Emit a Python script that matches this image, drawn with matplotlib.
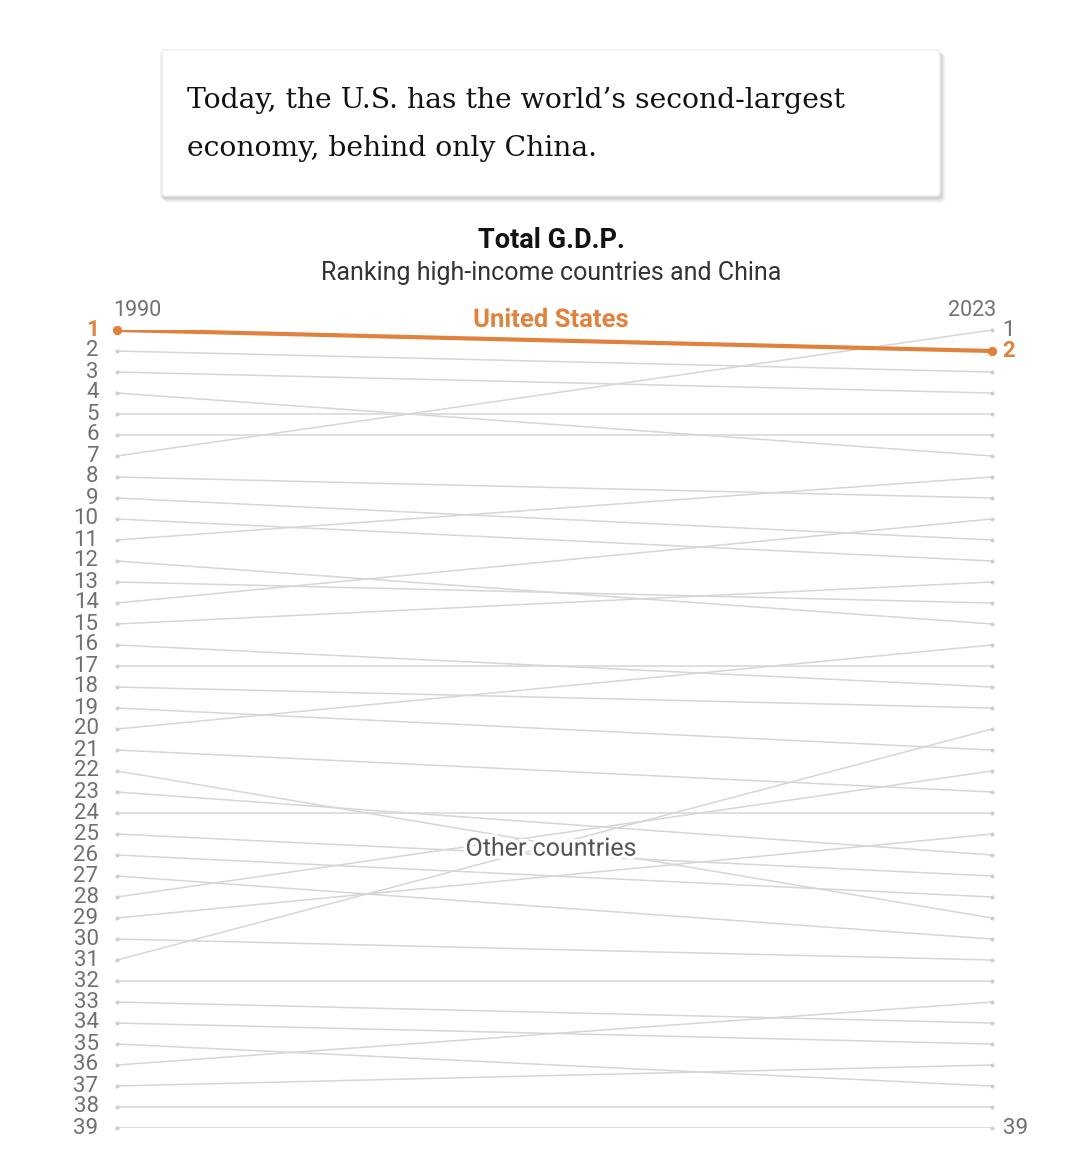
import matplotlib.pyplot as plt
import matplotlib.patheffects as pe
from matplotlib.patches import FancyBboxPatch

# rankings: position in 1990 -> position in 2023
rank_1990 = list(range(1, 40))
rank_2023 = [2, 3, 4, 7, 5, 6, 1, 9, 11, 12,
             8, 15, 14, 10, 13, 18, 17, 19, 21, 16,
             23, 29, 26, 24, 27, 28, 30, 22, 25, 31,
             20, 32, 34, 35, 37, 33, 36, 38, 39]
highlight = 1  # United States, 1990 rank
years = ['1990', '2023']

title = 'Total G.D.P.'
subtitle = 'Ranking high-income countries and China'
headline = ['Today, the U.S. has the world\u2019s second-largest',
            'economy, behind only China.']

orange = '#e0823d'
grey_line = '#d6d6d6'
grey_text = '#707070'
W, H = 1080, 1176

fig = plt.figure(figsize=(W / 100, H / 100), dpi=100)
fig.patch.set_facecolor('white')

# caption box with a soft shadow
bx, by, bw, bh = 162, 50, 778, 146
for i, a in enumerate([0.05, 0.05, 0.04, 0.03, 0.02]):
    sh = FancyBboxPatch(((bx - 2 + i) / W, (H - by - bh - 3 - i) / H), (bw + 4) / W, (bh + 2) / H,
                        boxstyle='round,pad=0,rounding_size=0.004', transform=fig.transFigure,
                        facecolor='black', edgecolor='none', alpha=a, zorder=0)
    fig.add_artist(sh)
box = FancyBboxPatch((bx / W, (H - by - bh) / H), bw / W, bh / H,
                     boxstyle='round,pad=0,rounding_size=0.003', transform=fig.transFigure,
                     facecolor='white', edgecolor='#ececec', lw=1, zorder=1)
fig.add_artist(box)
for line, yy in zip(headline, [100, 148]):
    fig.text(187 / W, 1 - yy / H, line, ha='left', va='center', fontsize=20.3,
             family='DejaVu Serif', color='#121212', zorder=2)

fig.text(551 / W, 1 - 241 / H, title, ha='center', va='center', fontsize=19.5,
         family='Roboto', weight='bold', color='#121212')
fig.text(551 / W, 1 - 273 / H, subtitle, ha='center', va='center', fontsize=18,
         family='Roboto', color='#333333')

ax = fig.add_axes([117 / W, 48 / H, 875 / W, 798 / H])
ax.set_xlim(0, 1)
ax.set_ylim(39, 1)
ax.axis('off')

for r0, r1 in zip(rank_1990, rank_2023):
    if r0 == highlight:
        continue
    ax.plot([0, 1], [r0, r1], color=grey_line, lw=1.1, zorder=1, solid_capstyle='round')
    ax.scatter([0, 1], [r0, r1], s=9, color='#cfcfcf', zorder=2, clip_on=False, lw=0)

us_end = rank_2023[rank_1990.index(highlight)]
ax.plot([0, 1], [highlight, us_end], color=orange, lw=3, zorder=4, solid_capstyle='round')
ax.scatter([0, 1], [highlight, us_end], s=45, color=orange, zorder=5, clip_on=False, lw=0)

# rank labels
for r in rank_1990:
    is_us = r == highlight
    ax.text(-0.021, r, str(r), ha='right', va='center', fontsize=16, family='Roboto',
            color=orange if is_us else grey_text, weight='bold' if is_us else 'normal')
for r in [1, us_end, 39]:
    is_us = r == us_end
    ax.text(1.012, r, str(r), ha='left', va='center', fontsize=16, family='Roboto',
            color=orange if is_us else grey_text, weight='bold' if is_us else 'normal')

ax.text(-0.004, 0.08, years[0], ha='left', va='center', fontsize=15.5, family='Roboto', color=grey_text)
ax.text(1.005, 0.08, years[1], ha='right', va='center', fontsize=15.5, family='Roboto', color=grey_text)

ax.text(0.496, 0.52, 'United States', ha='center', va='center', fontsize=18.5, family='Roboto',
        weight='bold', color=orange, zorder=6,
        path_effects=[pe.withStroke(linewidth=4, foreground='white')])
ax.text(0.496, 25.7, 'Other countries', ha='center', va='center', fontsize=18, family='Roboto',
        color='#555555', zorder=6,
        path_effects=[pe.withStroke(linewidth=5, foreground='white')])

fig.savefig('out.png', dpi=100, facecolor='white')
